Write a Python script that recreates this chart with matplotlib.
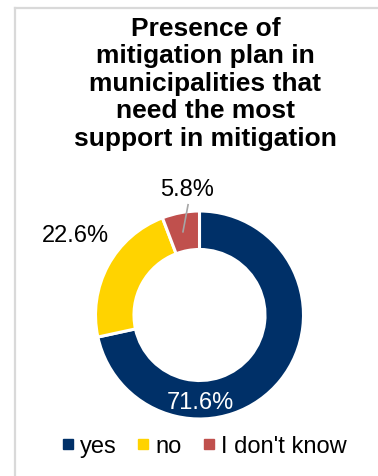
import matplotlib
matplotlib.use("Agg")
import matplotlib.pyplot as plt
from matplotlib.lines import Line2D

plt.rcParams['font.family'] = ['Liberation Sans', 'DejaVu Sans']

# survey answers
answers = ["yes", "no", "I don't know"]
shares = [71.6, 22.6, 5.8]
colors = ["#003068", "#FFD300", "#C0504D"]
title = "Presence of\nmitigation plan in\nmunicipalities that\nneed the most\nsupport in mitigation"

W, H = 378, 477
fig = plt.figure(figsize=(W / 100, H / 100), dpi=100)

# chart frame (top and left edge)
fig.add_artist(Line2D([14.5 / W, 1], [1 - 8.5 / H] * 2, transform=fig.transFigure,
                      color="#D9D9D9", lw=1.6))
fig.add_artist(Line2D([14.5 / W] * 2, [0, 1 - 8.5 / H], transform=fig.transFigure,
                      color="#D9D9D9", lw=1.6))

fig.text(205.5 / W, 1 - 17 / H, title, ha="center", va="top", fontsize=19,
         fontweight="bold", linespacing=1.18)

# donut: centre (199.5, 316) px, outer radius 104 px
cx, cy, r = 199.5, 316, 104
ax = fig.add_axes([(cx - r) / W, (H - cy - r) / H, 2 * r / W, 2 * r / H])
wedges, _ = ax.pie(shares, colors=colors, startangle=90, counterclock=False,
                   radius=1.0,
                   wedgeprops=dict(width=0.37, edgecolor="white", linewidth=2.2))
ax.set_xlim(-1, 1)
ax.set_ylim(-1, 1)
ax.axis("off")

lbl = [f"{v:.1f}%" for v in shares]
ax.text(0.005, -0.84, lbl[0], ha="center", va="center", fontsize=17, color="white")
ax.text(-1.19, 0.77, lbl[1], ha="center", va="center", fontsize=17, color="black")
ax.text(-0.115, 1.215, lbl[2], ha="center", va="center", fontsize=17, color="black")
ax.plot([-0.11, -0.159], [1.06, 0.80], color="#A6A6A6", lw=1.2, clip_on=False)

handles = [Line2D([], [], marker="s", linestyle="none", markersize=6.5,
                  markerfacecolor=c, markeredgecolor=c) for c in colors]
fig.legend(handles, answers, loc="center", bbox_to_anchor=(204 / W, 1 - 447 / H),
           ncol=3, frameon=False, fontsize=17, handlelength=0.5,
           handletextpad=0.25, columnspacing=0.9, borderpad=0)

fig.savefig("out.png", dpi=100)
